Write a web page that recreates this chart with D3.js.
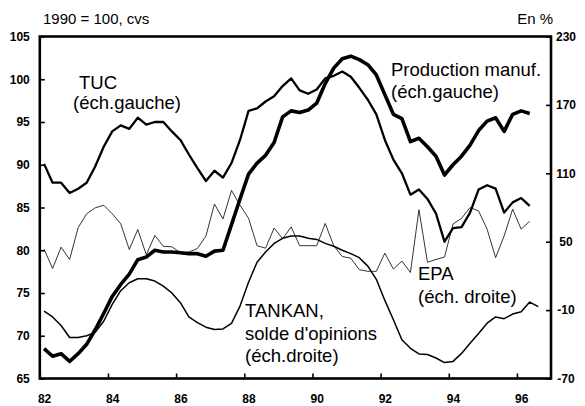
<!DOCTYPE html>
<html>
<head>
<meta charset="utf-8">
<script src="https://cdn.jsdelivr.net/npm/d3@7"></script>
<style>
  body { margin: 0; background: #fff; }
  svg { font-family: "Liberation Sans", Arial, sans-serif; }
</style>
</head>
<body>
<script>
// Taille du graphe
var larg = 585;
var haut = 406;

// Données trimestrielles, à partir de 1982 T1
var debut = 1982;
var anneesTicks = [1982, 1984, 1986, 1988, 1990, 1992, 1994, 1996];
var ticksGauche = [65, 70, 75, 80, 85, 90, 95, 100, 105];
var ticksDroite = [-70, -10, 50, 110, 170, 230];

// échelle gauche (1990 = 100)
var tuc = [90.1, 87.9, 87.9, 86.7, 87.2, 87.9, 89.8, 92.1, 93.9, 94.6,
  94.2, 95.5, 94.7, 95.0, 95.0, 93.9, 92.9, 91.2, 89.6, 88.1,
  89.3, 88.5, 90.2, 92.9, 96.3, 96.6, 97.4, 98.0, 99.2, 100.1,
  98.7, 98.3, 98.8, 100.1, 100.4, 100.9, 100.3, 99.0, 97.6, 95.9,
  92.9, 90.6, 89.0, 86.5, 87.1, 86.0, 84.3, 81.0, 82.6, 82.7,
  84.4, 87.1, 87.6, 87.2, 84.4, 85.6, 86.1, 85.2];

var production = [68.5, 67.6, 67.9, 67.0, 67.9, 69.0, 70.7, 72.6, 74.6, 76.0,
  77.2, 78.9, 79.2, 80.0, 79.8, 79.8, 79.7, 79.6, 79.6, 79.3,
  79.9, 80.0, 83.0, 86.0, 88.9, 90.2, 91.1, 92.6, 95.6, 96.3,
  96.1, 96.4, 97.2, 99.5, 101.3, 102.4, 102.7, 102.3, 101.7, 100.5,
  98.2, 95.9, 95.4, 92.7, 93.1, 92.1, 91.0, 88.8, 90.0, 91.0,
  92.3, 94.0, 95.1, 95.5, 93.9, 95.9, 96.3, 96.0];

// échelle droite (en %)
var tankan = [-11, -16, -23.5, -34, -34, -32.5, -29.5, -19.8, -5, 7,
  14, 17.5, 17.5, 15.5, 11, 5, -3.5, -16, -21, -25,
  -27, -26.5, -21.7, -6.5, 14.5, 32, 41, 48.5, 53, 55,
  55, 53, 52, 48.5, 46, 42.5, 39.5, 36, 28.6, 17,
  -1.5, -18.5, -36, -43.5, -48.5, -49, -52, -56, -55, -48,
  -39, -30.5, -21.5, -16, -17.5, -13.5, -11.5, -3, -7];

var epa = [43.5, 26.5, 45.2, 34.4, 62.2, 74.5, 79.7, 82, 74.5, 65.7,
  43.2, 60.7, 38.5, 55.5, 46, 45.5, 40.5, 41, 44, 55,
  83, 70, 95, 82, 70.6, 46.5, 44.3, 62, 52.5, 63,
  46.5, 46.5, 46.5, 66, 46.5, 37, 35.5, 25.5, 24, 24,
  40, 26, 33, 23, 78, 32, 34.4, 36.5, 65.5, 70.5,
  80, 77, 61, 36, 55, 78.5, 61, 68];

// date au milieu du trimestre
function trimestre(i) { return debut + (i + 0.5) / 4; }

var gauche = 39.8, droite = 551, hautPlot = 36.5, basPlot = 378.5;

var x = d3.scaleLinear().domain([1982, 1997]).range([gauche, droite]);
var yG = d3.scaleLinear().domain([65, 105]).range([basPlot, hautPlot]);
var yD = d3.scaleLinear().domain([-70, 230]).range([basPlot, hautPlot]);

var svg = d3.select("body")
  .append("svg")
  .attr("width", larg)
  .attr("height", haut);

// Courbes
function courbe(valeurs, echelle, epaisseur) {
  var ligne = d3.line()
    .x(function(d, i) { return x(trimestre(i)); })
    .y(function(d) { return echelle(d); });
  svg.append("path")
    .datum(valeurs)
    .attr("d", ligne)
    .attr("fill", "none")
    .attr("stroke", "#000")
    .attr("stroke-width", epaisseur)
    .attr("stroke-linejoin", "round");
}

courbe(epa, yD, 0.8);
courbe(tankan, yD, 1.5);
courbe(tuc, yG, 2.3);
courbe(production, yG, 3.6);

// Axes (graduations vers l'intérieur)
var axeG = svg.append("g")
  .attr("transform", "translate(" + gauche + ",0)")
  .call(d3.axisLeft(yG).tickValues(ticksGauche).tickSize(-5).tickSizeOuter(0));
axeG.selectAll("text").attr("x", -10);

var axeD = svg.append("g")
  .attr("transform", "translate(" + droite + ",0)")
  .call(d3.axisRight(yD).tickValues(ticksDroite).tickSize(-5).tickSizeOuter(0)
    .tickFormat(function(d) { return d; }));
axeD.selectAll("text").attr("x", 15).attr("text-anchor", "middle");

var axeB = svg.append("g")
  .attr("transform", "translate(0," + basPlot + ")")
  .call(d3.axisBottom(x).tickValues(anneesTicks).tickSize(-5).tickSizeOuter(0)
    .tickFormat(function(d) { return String(d).slice(2); }));
axeB.selectAll("text")
  .attr("x", x(1982.125) - x(1982))
  .attr("y", 24.5)
  .attr("dy", 0);

svg.selectAll(".domain").remove();
svg.selectAll(".tick line").attr("stroke", "#000").attr("stroke-width", 1.6);
svg.selectAll(".tick text")
  .attr("fill", "#000")
  .style("font-size", "12px")
  .style("font-weight", "bold")
  .style("font-family", "'Liberation Sans', Arial, sans-serif");

// Cadre
svg.append("rect")
  .attr("x", gauche)
  .attr("y", hautPlot)
  .attr("width", droite - gauche)
  .attr("height", basPlot - hautPlot)
  .attr("fill", "none")
  .attr("stroke", "#000")
  .attr("stroke-width", 2.6);

// Textes
svg.append("text").attr("x", 43).attr("y", 24)
  .style("font-size", "15px").text("1990 = 100, cvs");
svg.append("text").attr("x", 553).attr("y", 24).attr("text-anchor", "end")
  .style("font-size", "15px").text("En %");

function etiquette(px, py, lignes, ecart) {
  var t = svg.append("text").attr("x", px).attr("y", py).style("font-size", "18.5px");
  lignes.forEach(function(l, i) {
    t.append("tspan").attr("x", px).attr("y", py + i * ecart).text(l);
  });
}

etiquette(79, 89, ["TUC"], 0);
svg.append("text").attr("x", 73).attr("y", 108.5).style("font-size", "18.5px").text("(éch.gauche)");
etiquette(391, 76, ["Production manuf.", "(éch.gauche)"], 22);
etiquette(245, 317, ["TANKAN,", "solde d'opinions", "(éch.droite)"], 22.5);
etiquette(418, 280, ["EPA", "(éch. droite)"], 23);
</script>
</body>
</html>
